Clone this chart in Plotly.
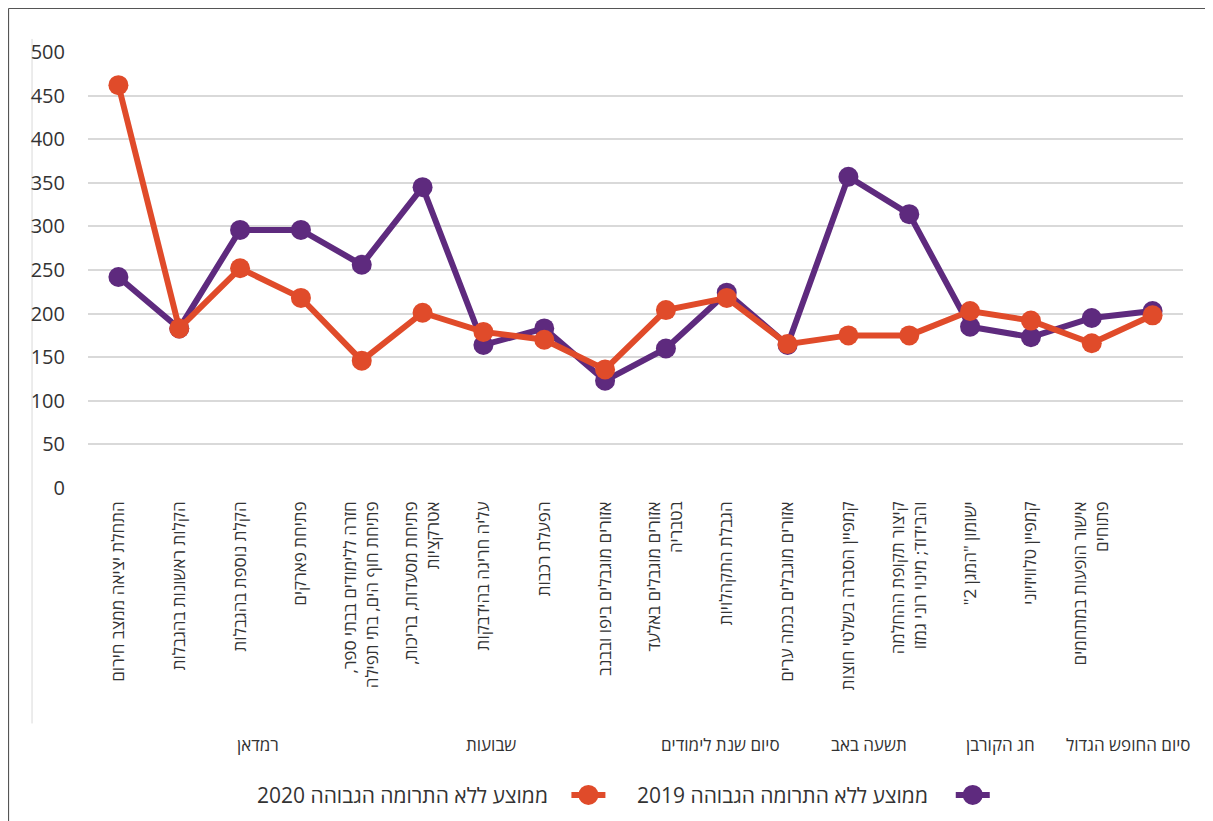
import plotly.graph_objects as go

categories = [
    "התחלת יציאה ממצב חירום",
    "הקלות ראשונות בהגבלות",
    "הקלת נוספת בהגבלות",
    "פתיחת פארקים",
    "חזרה ללימודים בבתי ספר,<br>פתיחת חוף הים, בתי תפילה",
    "פתיחת מסעדות, בריכות,<br>אטרקציות",
    "עליה חריגה בהידבקות",
    "הפעלת רכבות",
    "אזורים מוגבלים ביפו ובבנב",
    "אזורים מוגבלים באלעד<br>בטבריה",
    "הגבלת התקהלויות",
    "אזורים מוגבלים בכמה ערים",
    "קמפיין הסברה בשלטי חוצות",
    "קיצור תקופת ההחלמה<br>והבידוד; מינוי רוני גמזו",
    "ישומון \"המגן 2\"",
    "קמפיין טלוויזיוני",
    "אישור הופעות במתחמים<br>פתוחים",
    "",
]
avg_2019 = [242, 183, 296, 296, 256, 345, 164, 183, 123, 160, 224, 164, 357, 314, 185, 173, 195, 203]
avg_2020 = [462, 183, 252, 218, 146, 201, 179, 170, 136, 204, 218, 165, 175, 175, 203, 192, 166, 198]
groups = ["רמדאן", "שבועות", "סיום שנת לימודים", "תשעה באב", "חג הקורבן", "סיום החופש הגדול"]
group_pos = [2.3, 6.13, 9.9, 12.34, 14.5, 16.6]
series_names = ["ממוצע ללא התרומה הגבוהה 2019", "ממוצע ללא התרומה הגבוהה 2020"]
y_ticks = [0, 50, 100, 150, 200, 250, 300, 350, 400, 450, 500]

PURPLE = "#5E2A7E"
ORANGE = "#E04B2A"
FONT = "Open Sans, Liberation Sans, DejaVu Sans, sans-serif"
RLM = "\u200f"


def rtl(s):
    # keep punctuation on the right side for right-to-left text
    if not s:
        return s
    return "<br>".join(RLM + part + RLM for part in s.split("<br>"))


xs = list(range(len(categories)))

fig = go.Figure()
fig.add_trace(go.Scatter(x=xs, y=avg_2019, mode="lines+markers", name=series_names[0],
                         line=dict(color=PURPLE, width=6), marker=dict(size=20, color=PURPLE)))
fig.add_trace(go.Scatter(x=xs, y=avg_2020, mode="lines+markers", name=series_names[1],
                         line=dict(color=ORANGE, width=6), marker=dict(size=20, color=ORANGE)))

annotations = []
for g, p in zip(groups, group_pos):
    annotations.append(dict(x=p, y=-0.589, xref="x", yref="paper", text=rtl(g), showarrow=False,
                            font=dict(size=17, color="#333333", family=FONT), xanchor="center", yanchor="middle"))

shapes = [
    # chart frame: top and left edges
    dict(type="line", xref="paper", yref="paper", x0=-0.0726, x1=1.04, y0=1.0998, y1=1.0998,
         line=dict(color="#555555", width=1.2), layer="above"),
    dict(type="line", xref="paper", yref="paper", x0=-0.0726, x1=-0.0726, y0=-0.85, y1=1.0998,
         line=dict(color="#555555", width=1.2), layer="above"),
    dict(type="line", xref="paper", yref="paper", x0=-0.0511, x1=-0.0511, y0=-0.54, y1=1.03,
         line=dict(color="#d9d9d9", width=1), layer="below"),
]

legend_items = [(series_names[0], PURPLE, 0.769, 0.808), (series_names[1], ORANGE, 0.422, 0.457)]
for name, col, tx, cx in legend_items:
    annotations.append(dict(x=tx, y=-0.704, xref="paper", yref="paper", text=rtl(name), showarrow=False,
                            font=dict(size=21, color="#333333", family=FONT), xanchor="right", yanchor="middle"))
    shapes.append(dict(type="line", xref="paper", yref="paper", xsizemode="pixel", ysizemode="pixel",
                       xanchor=cx, yanchor=-0.704, x0=-17, x1=17, y0=0, y1=0,
                       line=dict(color=col, width=6)))
    shapes.append(dict(type="circle", xref="paper", yref="paper", xsizemode="pixel", ysizemode="pixel",
                       xanchor=cx, yanchor=-0.704, x0=-10, x1=10, y0=-10, y1=10,
                       fillcolor=col, line=dict(color=col, width=0)))

fig.update_layout(
    width=1213, height=821,
    margin=dict(l=80, r=38, t=44, b=341),
    paper_bgcolor="white", plot_bgcolor="white",
    showlegend=False,
    font=dict(family=FONT, color="#404040"),
    xaxis=dict(range=[-0.5, 17.5], tickmode="array", tickvals=xs, ticktext=[rtl(c) for c in categories],
               tickangle=-90, showgrid=False, zeroline=False, showline=False, ticks="",
               tickfont=dict(size=17, color="#333333", family=FONT), ticklabelstandoff=9),
    yaxis=dict(range=[0, 500], tickvals=y_ticks, showgrid=True, gridcolor="#d9d9d9", gridwidth=2,
               zeroline=False, showline=False, ticks="",
               tickfont=dict(size=20, color="#333333", family=FONT), ticklabelstandoff=22),
    annotations=annotations,
    shapes=shapes,
)
fig.write_html("out.html")
